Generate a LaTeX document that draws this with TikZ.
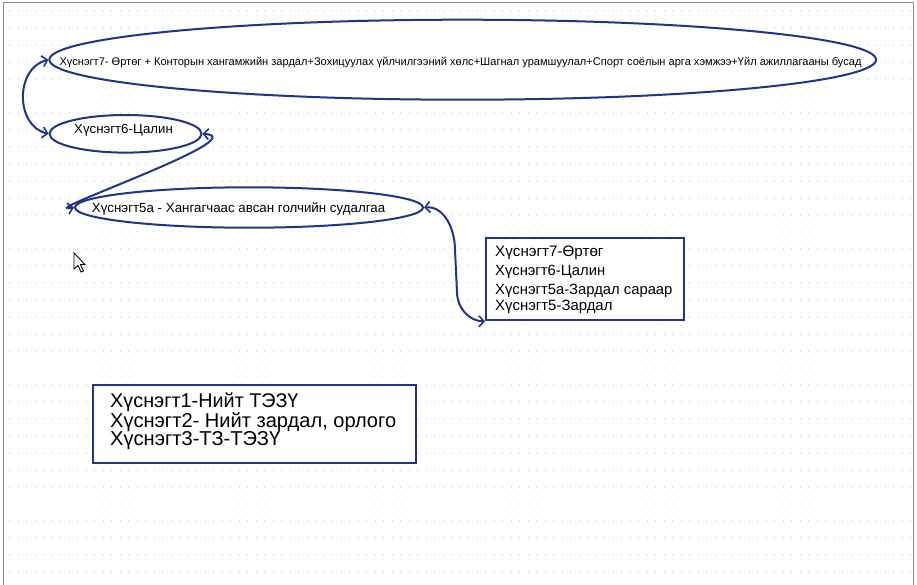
\documentclass[tikz,border=0pt]{standalone}
\usepackage{fontspec}
\setmainfont{Liberation Sans}
\usetikzlibrary{shapes.geometric,arrows.meta}
\definecolor{navy}{RGB}{33,52,135}
\definecolor{dotc}{RGB}{222,222,222}
\definecolor{framec}{RGB}{140,140,140}
\newcommand{\fitw}[2]{\resizebox{#1pt}{!}{\fontsize{12}{14}\selectfont #2}}
\tikzset{
  ell/.style={draw=navy, line width=2pt, ellipse, inner sep=0pt, fill=white},
  box/.style={draw=navy, line width=2pt, fill=white, anchor=north west, inner sep=0pt},
  lbl/.style={anchor=base west, inner sep=0pt, text=black},
  conn/.style={draw=navy, line width=2pt, {Straight Barb[length=5pt,width=11pt,line width=1.6pt]}-{Straight Barb[length=5pt,width=11pt,line width=1.6pt]}},
}
\begin{document}
\begin{tikzpicture}[x=1pt,y=-1pt]
\useasboundingbox (0,0) rectangle (917,584);
\fill[white] (0,0) rectangle (917,584);
% grid dots
\foreach \yy in {11,19.5,...,584} {
  \draw[dotc, line width=1.2pt, dash pattern=on 0.8pt off 7.7pt] (9,\yy) -- (912,\yy);
}
% frame
\draw[framec, line width=1.5pt] (3.5,590) -- (3.5,2.5) -- (913.5,2.5) -- (913.5,590);

% ellipses
\node[ell, minimum width=826.7pt, minimum height=80pt] (e1) at (462.7,59.7) {};
\node[ell, minimum width=152pt, minimum height=37.6pt] (e2) at (125.5,133.8) {};
\node[ell, minimum width=348pt, minimum height=40.4pt] (e3) at (249,207.5) {};

\node[lbl] (t1) at (59.3,65) {\fitw{802}{Хүснэгт7- Өртөг + Конторын хангамжийн зардал+Зохицуулах үйлчилгээний хөлс+Шагнал урамшуулал+Спорт соёлын арга хэмжээ+Үйл ажиллагааны бусад}};
\node[lbl] (t2) at (74,133.3) {\fitw{98.7}{Хүснэгт6-Цалин}};
\node[lbl] (t3) at (91.7,212.3) {\fitw{293.3}{Хүснэгт5a - Хангагчаас авсан голчийн судалгаа}};

% rectangle 1
\node[box, minimum width=198.3pt, minimum height=82pt] (r1) at (485,237.3) {};
\node[lbl] (r1a) at (495,256) {\fitw{108.3}{Хүснэгт7-Өртөг}};
\node[lbl] (r1b) at (495,275) {\fitw{110}{Хүснэгт6-Цалин}};
\node[lbl] (r1c) at (495,294) {\fitw{177.3}{Хүснэгт5a-Зардал сараар}};
\node[lbl] (r1d) at (495,310) {\fitw{117.3}{Хүснэгт5-Зардал}};

% rectangle 2
\node[box, minimum width=323.3pt, minimum height=77.7pt] (r2) at (91.7,384) {};
\node[lbl] (r2a) at (110,407.7) {\fitw{188.3}{Хүснэгт1-Нийт ТЭЗҮ}};
\node[lbl] (r2b) at (110,427.7) {\fitw{286}{Хүснэгт2- Нийт зардал, орлого}};
\node[lbl] (r2c) at (110,445.7) {\fitw{170}{Хүснэгт3-ТЗ-ТЭЗҮ}};

% connectors
\draw[conn] (e1.west) .. controls (15,68) and (15,126) .. (e2.west);
\draw[conn] (e2.east) .. controls (258,137) and (30,215) .. (e3.west);
\draw[conn] (e3.east) to[out=5,in=90] (455,250) -- (457,292) to[out=-90,in=180] (r1.south west);

% mouse cursor
\draw[black, fill=white, line width=0.9pt, line join=miter]
  (74,253) -- (74,269) -- (78,265.5) -- (81,272) -- (83.5,271) -- (80.5,264.5) -- (85,264.5) -- cycle;
\end{tikzpicture}
\end{document}
